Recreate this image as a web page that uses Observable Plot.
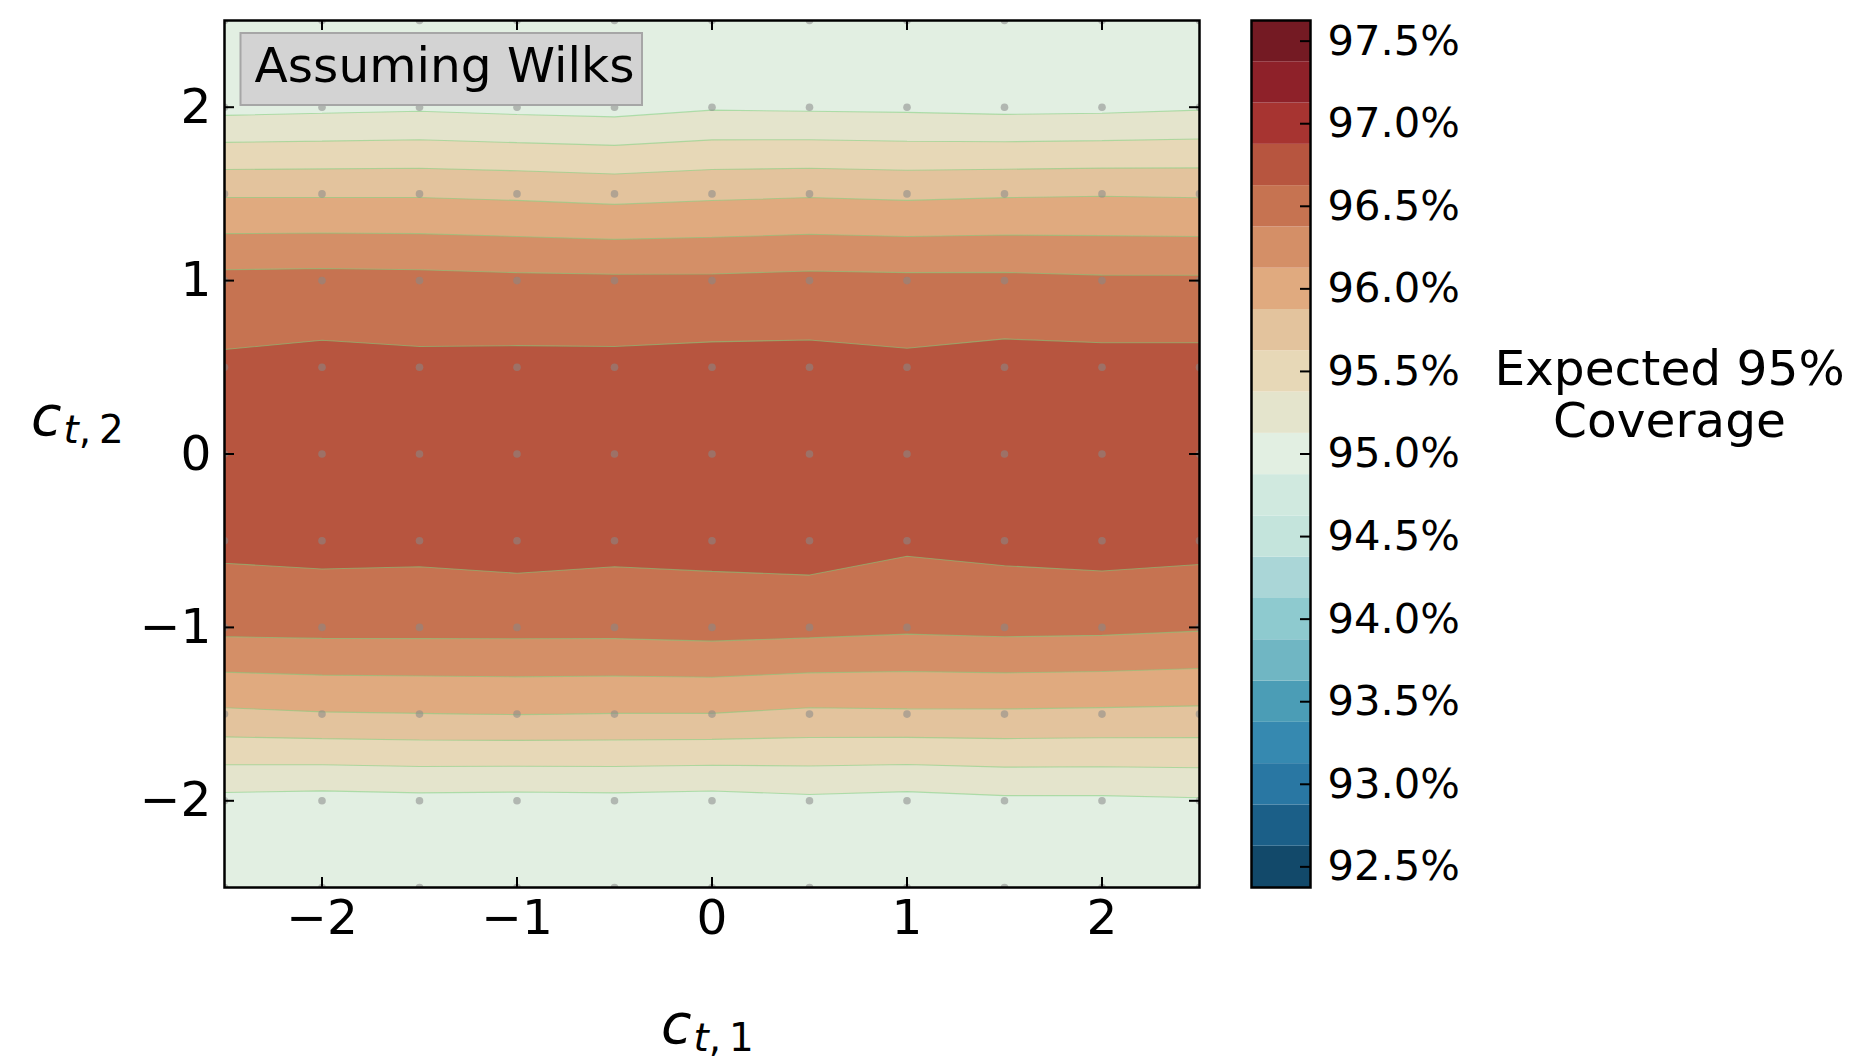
<!DOCTYPE html>
<html>
<head>
<meta charset="utf-8">
<script src="https://cdn.jsdelivr.net/npm/d3@7"></script>
<script src="https://cdn.jsdelivr.net/npm/@observablehq/plot@0.6"></script>
<style>
  html, body { margin: 0; padding: 0; background: #fff; }
  #wrap { position: relative; width: 1849px; height: 1061px; overflow: hidden; font-family: "DejaVu Sans"; }
  #wrap svg { position: absolute; top: 0; max-width: none; }
</style>
</head>
<body>
<div id="wrap"></div>
<script>
// ---- grid coordinates ----
const xs = [-2.5, -2, -1.5, -1, -0.5, 0, 0.5, 1, 1.5, 2, 2.5];
const ys = [-2.5, -2, -1.5, -1, -0.5, 0, 0.5, 1, 1.5, 2, 2.5];

// ---- coverage (%) per row of c_t,2, columns follow xs ----
const cov_m25 = [94.97, 94.99, 94.96, 94.98, 95.00, 94.97, 94.95, 94.98, 94.96, 94.99, 94.97];
const cov_m20 = [95.05, 95.03, 95.05, 95.04, 95.05, 95.03, 95.07, 95.04, 95.08, 95.08, 95.10];
const cov_m15 = [95.83, 95.86, 95.87, 95.88, 95.87, 95.87, 95.83, 95.84, 95.84, 95.83, 95.82];
const cov_m10 = [96.44, 96.45, 96.45, 96.45, 96.45, 96.47, 96.45, 96.42, 96.44, 96.43, 96.40];
const cov_m05 = [96.69, 96.71, 96.70, 96.73, 96.70, 96.71, 96.74, 96.67, 96.70, 96.73, 96.71];
const cov_00  = [96.78, 96.80, 96.79, 96.81, 96.80, 96.82, 96.81, 96.79, 96.80, 96.82, 96.80];
const cov_p05 = [96.67, 96.70, 96.68, 96.69, 96.69, 96.71, 96.71, 96.68, 96.72, 96.71, 96.71];
const cov_p10 = [96.45, 96.46, 96.45, 96.43, 96.42, 96.42, 96.44, 96.43, 96.43, 96.41, 96.41];
const cov_p15 = [95.85, 95.85, 95.85, 95.83, 95.80, 95.83, 95.85, 95.83, 95.85, 95.86, 95.85];
const cov_p20 = [95.05, 95.07, 95.09, 95.06, 95.04, 95.10, 95.09, 95.08, 95.06, 95.07, 95.10];
const cov_p25 = [94.98, 94.96, 94.99, 94.97, 94.95, 95.01, 94.98, 94.96, 95.00, 94.97, 94.99];

// ---- contour levels and band colours (bottom to top) ----
const levels = [92.375, 92.625, 92.875, 93.125, 93.375, 93.625, 93.875, 94.125, 94.375, 94.625, 94.875,
                95.125, 95.375, 95.625, 95.875, 96.125, 96.375, 96.625, 96.875, 97.125, 97.375, 97.625];
const bandColors = ["#12496a", "#1b5f88", "#2977a3", "#3689b0", "#4b9db6", "#70b6c3", "#8ecacf",
                    "#aad6d7", "#c4e4dc", "#d0e9df", "#e2efe2", "#e4e4cc", "#e7d8b7", "#e3c39d",
                    "#e0aa7f", "#d48f67", "#c67351", "#b7553f", "#a73431", "#8e2129", "#741a23"];
const colorTicks = [92.5, 93.0, 93.5, 94.0, 94.5, 95.0, 95.5, 96.0, 96.5, 97.0, 97.5];
const xTicks = [-2, -1, 0, 1, 2];
const yTicks = [-2, -1, 0, 1, 2];

// ---- derived structures ----
const rows = [cov_m25, cov_m20, cov_m15, cov_m10, cov_m05, cov_00, cov_p05, cov_p10, cov_p15, cov_p20, cov_p25];
const values = rows.flat();
const grid = ys.flatMap(y => xs.map(x => ({x, y})));
const colorDomain = d3.range(levels.length - 2).map(i => (levels[i] + levels[i + 1]) / 2);
const bands = d3.range(levels.length - 1).map(i => ({lo: levels[i], hi: levels[i + 1]}));
const colorScale = {type: "threshold", domain: colorDomain, range: bandColors};
const fmt = d => d < 0 ? "\u2212" + (-d) : String(d);
const stepX = xs[1] - xs[0], stepY = ys[1] - ys[0];

const W = 1849, H = 1061;
const mL = 224, mR = 650, mT = 20, mB = 174;
const frameW = W - mL - mR, frameH = H - mT - mB;
const tickLen = 10;

const main = Plot.plot({
  width: W, height: H,
  marginLeft: mL, marginRight: mR, marginTop: mT, marginBottom: mB,
  style: {fontFamily: "DejaVu Sans", background: "transparent", color: "#000"},
  x: {domain: [xs[0], xs[xs.length - 1]], label: null},
  y: {domain: [ys[0], ys[ys.length - 1]], label: null},
  color: colorScale,
  marks: [
    Plot.contour(values, {
      x1: xs[0] - stepX / 2, x2: xs[xs.length - 1] + stepX / 2,
      y1: ys[0] - stepY / 2, y2: ys[ys.length - 1] + stepY / 2,
      width: xs.length, height: ys.length,
      fill: Plot.identity, thresholds: levels,
      stroke: "#7fd07f", strokeOpacity: 0.55, strokeWidth: 1.1, clip: true
    }),
    Plot.dot(grid, {x: "x", y: "y", r: 3.8, fill: "#888", fillOpacity: 0.55, clip: true}),
    Plot.tickX(xTicks, {x: d => d, insetTop: frameH - tickLen, stroke: "#000", strokeWidth: 2}),
    Plot.tickX(xTicks, {x: d => d, insetBottom: frameH - tickLen, stroke: "#000", strokeWidth: 2}),
    Plot.tickY(yTicks, {y: d => d, insetRight: frameW - tickLen, stroke: "#000", strokeWidth: 2}),
    Plot.tickY(yTicks, {y: d => d, insetLeft: frameW - tickLen, stroke: "#000", strokeWidth: 2}),
    Plot.axisX(xTicks, {anchor: "bottom", tickSize: 0, tickPadding: 12, fontSize: 48.6, tickFormat: fmt, label: null}),
    Plot.axisY(yTicks, {anchor: "left", tickSize: 0, tickPadding: 13, fontSize: 48.6, tickFormat: fmt, label: null}),
    Plot.frame({stroke: "#000", strokeWidth: 2.5})
  ]
});

const cbLeft = 1240;
const cb = Plot.plot({
  width: W - cbLeft, height: H,
  marginLeft: 11, marginRight: W - cbLeft - 70, marginTop: mT, marginBottom: mB,
  style: {fontFamily: "DejaVu Sans", background: "transparent", color: "#000"},
  y: {domain: [levels[0], levels[levels.length - 1]], label: null},
  color: colorScale,
  marks: [
    Plot.rect(bands, {y1: "lo", y2: "hi", fill: "lo"}),
    Plot.tickY(colorTicks, {y: d => d, insetLeft: 59 - tickLen, stroke: "#000", strokeWidth: 2}),
    Plot.axisY(colorTicks, {anchor: "right", tickSize: 0, tickPadding: 17, fontSize: 41.7,
                            tickFormat: d => d.toFixed(1) + "%", label: null}),
    Plot.frame({stroke: "#000", strokeWidth: 2.5})
  ]
});

const wrap = document.getElementById("wrap");
main.style.left = "0px";
cb.style.left = cbLeft + "px";
wrap.appendChild(main);
wrap.appendChild(cb);

// ---- annotations ----
const sMain = d3.select(main);
sMain.append("rect")
  .attr("x", 240.5).attr("y", 33).attr("width", 401.5).attr("height", 72)
  .attr("fill", "#d3d3d3").attr("stroke", "#a6a6a6").attr("stroke-width", 2);
sMain.append("text")
  .attr("x", 254.5).attr("y", 82).attr("text-anchor", "start")
  .attr("font-family", "DejaVu Sans").attr("font-size", 48.6).attr("fill", "#000")
  .text("Assuming Wilks");

function mathLabel(sel, x, y, sub) {
  const t = sel.append("text").attr("x", x).attr("y", y).attr("text-anchor", "start")
    .attr("font-family", "DejaVu Sans").attr("font-size", 55.6).attr("fill", "#000");
  t.append("tspan").attr("font-style", "italic").text("c");
  t.append("tspan").attr("font-style", "italic").attr("font-size", 38.9).attr("dy", 8).attr("dx", 2).text("t");
  t.append("tspan").attr("font-size", 38.9).text(",\u2009" + sub);
}
mathLabel(sMain, 661, 1043, "1");
mathLabel(sMain, 31, 435, "2");

const sCb = d3.select(cb);
const cbl = sCb.append("text")
  .attr("font-family", "DejaVu Sans").attr("font-size", 48.6).attr("fill", "#000")
  .attr("text-anchor", "middle");
cbl.append("tspan").attr("x", 1669.5 - cbLeft).attr("y", 385).text("Expected 95%");
cbl.append("tspan").attr("x", 1669.5 - cbLeft).attr("y", 437).text("Coverage");
</script>
</body>
</html>
